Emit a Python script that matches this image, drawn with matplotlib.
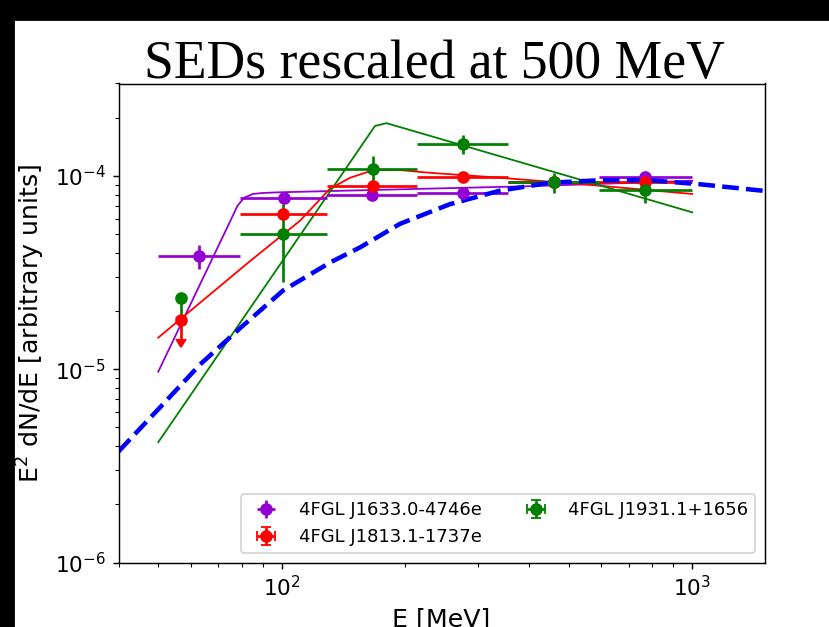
import matplotlib
matplotlib.use("Agg")
import numpy as np
from matplotlib import pyplot as plt
from matplotlib.patches import Rectangle

# data points (E in MeV, E^2 dN/dE in arbitrary units)
purple_E = [63.0, 101.3, 166.3, 276.8, 460.6, 769.0]
purple_lo = [50.0, 79.2, 128.7, 213.0, 356.0, 594.0]
purple_hi = [79.2, 128.7, 213.0, 356.0, 594.0, 1000.0]
purple_v = [3.84e-5, 7.67e-5, 7.98e-5, 8.11e-5, 9.24e-5, 9.88e-5]
purple_err = [0.56e-5, 0.3e-5, 0.3e-5, 0.3e-5, 0.3e-5, 0.3e-5]

red_E = [56.9, 100.9, 166.4, 276.6, 460.6, 768.4]
red_lo = [56.9, 79.2, 128.7, 213.0, 356.0, 594.0]
red_hi = [56.9, 128.7, 213.0, 356.0, 594.0, 1000.0]
red_v = [1.80e-5, 6.35e-5, 8.88e-5, 9.80e-5, 9.24e-5, 9.31e-5]
red_err = [0.36e-5, 0.3e-5, 0.3e-5, 0.3e-5, 0.3e-5, 0.3e-5]
red_ul = [True, False, False, False, False, False]

green_E = [56.9, 100.9, 166.4, 276.6, 460.6, 768.4]
green_lo = [56.9, 79.2, 128.7, 213.0, 356.0, 594.0]
green_hi = [56.9, 128.7, 213.0, 356.0, 594.0, 1000.0]
green_v = [2.33e-5, 5.00e-5, 1.083e-4, 1.467e-4, 9.24e-5, 8.47e-5]
green_err = [0.47e-5, 2.18e-5, 1.85e-5, 1.66e-5, 1.1e-5, 1.2e-5]
green_ul = [True, False, False, False, False, False]

# model curves
purple_mod_E = [50, 60, 70, 75, 78, 81, 85, 90, 100, 200, 400, 1000]
purple_mod_v = [9.7e-6, 2.18e-5, 4.32e-5, 5.87e-5, 7.0e-5, 7.7e-5, 8.05e-5, 8.15e-5, 8.22e-5, 8.52e-5, 8.83e-5, 9.42e-5]

red_mod_E = [50, 63.3, 83.7, 110.8, 131, 146.6, 166.7, 194, 229.6, 339.6, 595.5, 1000]
red_mod_v = [1.455e-5, 2.21e-5, 3.62e-5, 5.86e-5, 8.57e-5, 9.76e-5, 1.068e-4, 1.07e-4, 1.036e-4, 9.77e-5, 8.88e-5, 8.05e-5]

green_mod_E = [50, 168.7, 180, 1000]
green_mod_v = [4.19e-6, 1.81e-4, 1.87e-4, 6.47e-5]

blue_E = [40, 50.6, 63.3, 79.1, 100.7, 131.1, 155.1, 194.0, 256.8, 339.6, 449.6, 595, 787, 1042, 1500]
blue_v = [3.75e-6, 6.37e-6, 1.06e-5, 1.627e-5, 2.55e-5, 3.56e-5, 4.26e-5, 5.64e-5, 7.13e-5, 8.37e-5, 9.20e-5, 9.48e-5, 9.48e-5, 9.04e-5, 8.35e-5]


def xerr_of(E, lo, hi):
    E = np.array(E)
    return [E - np.array(lo), np.array(hi) - E]


fig = plt.figure(figsize=(829 / 130, 627 / 130), dpi=130)
ax = fig.add_axes([118.5 / 829, 1 - 562.5 / 627, 646 / 829, 479 / 627])

ax.plot(purple_mod_E, purple_mod_v, color='darkviolet', lw=1)
ax.plot(red_mod_E, red_mod_v, color='red', lw=1)
ax.plot(green_mod_E, green_mod_v, color='green', lw=1)

ax.errorbar(purple_E, purple_v, xerr=xerr_of(purple_E, purple_lo, purple_hi),
            yerr=purple_err, fmt='o', color='darkviolet',
            label='4FGL J1633.0-4746e')
ax.errorbar(red_E, red_v, xerr=xerr_of(red_E, red_lo, red_hi),
            yerr=red_err, uplims=red_ul, fmt='o', color='red',
            label='4FGL J1813.1-1737e')
ax.errorbar(green_E, green_v, xerr=xerr_of(green_E, green_lo, green_hi),
            yerr=green_err, uplims=green_ul, fmt='o', color='green',
            label='4FGL J1931.1+1656')

ax.plot(blue_E, blue_v, '--', color='blue', lw=2.5)

ax.set_xscale('log')
ax.set_yscale('log')
ax.set_xlim(40, 1500)
ax.set_ylim(1e-6, 3e-4)
ax.tick_params(labelsize=12)
ax.set_xlabel('E [MeV]', fontsize=14)
ax.set_ylabel('E$^2$ dN/dE [arbitrary units]', fontsize=14)
ax.legend(loc='lower right', ncol=2)

fig.text(0.5235, 1 - 78 / 627, 'SEDs rescaled at 500 MeV',
         family='Liberation Serif', fontsize=29.7, ha='center', va='baseline')

# black screen borders
fig.add_artist(Rectangle((0, 1 - 20 / 627), 1, 20 / 627,
                         transform=fig.transFigure, color='black', zorder=10))
fig.add_artist(Rectangle((0, 0), 14 / 829, 1,
                         transform=fig.transFigure, color='black', zorder=10))

fig.savefig('out.png', dpi=130)
